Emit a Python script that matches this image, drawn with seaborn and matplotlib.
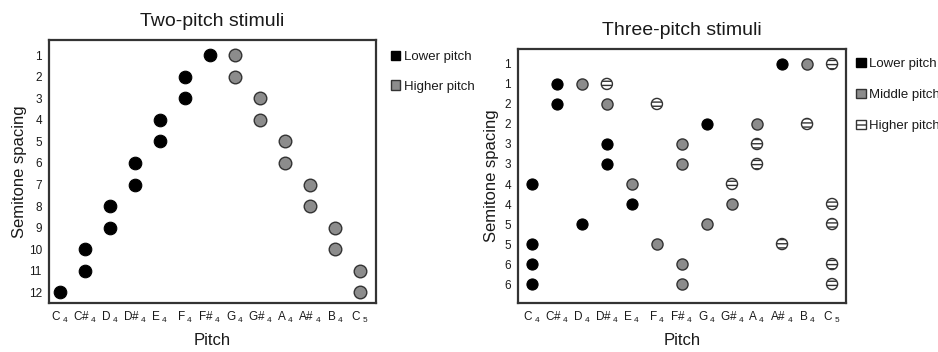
import matplotlib
matplotlib.use("Agg")
import matplotlib.pyplot as plt
from matplotlib.patches import Patch
import seaborn as sns
import pandas as pd

# Chromatic pitch axis (C4 .. C5)
pitches = ["C4", "C#4", "D4", "D#4", "E4", "F4", "F#4", "G4", "G#4", "A4", "A#4", "B4", "C5"]

# Two-pitch stimuli: one row per semitone spacing
two_spacing = [1, 2, 3, 4, 5, 6, 7, 8, 9, 10, 11, 12]
two_lower = ["F#4", "F4", "F4", "E4", "E4", "D#4", "D#4", "D4", "D4", "C#4", "C#4", "C4"]
two_higher = ["G4", "G4", "G#4", "G#4", "A4", "A4", "A#4", "A#4", "B4", "B4", "C5", "C5"]

# Three-pitch stimuli: one row per stimulus, labelled by its semitone spacing
three_spacing = [1, 1, 2, 2, 3, 3, 4, 4, 5, 5, 6, 6]
three_lower = ["A#4", "C#4", "C#4", "G4", "D#4", "D#4", "C4", "E4", "D4", "C4", "C4", "C4"]
three_middle = ["B4", "D4", "D#4", "A4", "F#4", "F#4", "E4", "G#4", "G4", "F4", "F#4", "F#4"]
three_higher = ["C5", "D#4", "F4", "B4", "A4", "A4", "G#4", "C5", "C5", "A#4", "C5", "C5"]

sns.set_style("white")
plt.rcParams["font.family"] = ["Liberation Sans", "DejaVu Sans"]
plt.rcParams["mathtext.fontset"] = "custom"
plt.rcParams["mathtext.rm"] = "Liberation Sans"
plt.rcParams["mathtext.default"] = "regular"
plt.rcParams["hatch.linewidth"] = 1.0
plt.rcParams["hatch.color"] = "#333333"

BLACK = "#000000"
GRAY = "#8c8c8c"
EDGE = "#333333"
TEXT = "#1a1a1a"

fig = plt.figure(figsize=(9.38, 3.52), dpi=100)
ax1 = fig.add_axes([0.052, 0.139, 0.349, 0.747])
ax2 = fig.add_axes([0.552, 0.139, 0.350, 0.722])


def tick_label(name):
    return name[:-1] + "$_{\\,\\," + name[-1] + "}$"


def series_frame(names):
    return pd.DataFrame({"pos": [pitches.index(n) for n in names],
                         "row": list(range(len(names)))})


def draw(ax, df, kind, size):
    if kind == "lower":
        sns.scatterplot(data=df, x="pos", y="row", ax=ax, s=size, color=BLACK,
                        edgecolor=BLACK, linewidth=0.8, legend=False, zorder=3)
    elif kind == "middle":
        sns.scatterplot(data=df, x="pos", y="row", ax=ax, s=size, color=GRAY,
                        edgecolor=EDGE, linewidth=1.0, legend=False, zorder=3)
    else:
        sns.scatterplot(data=df, x="pos", y="row", ax=ax, s=size, color="white",
                        edgecolor=EDGE, linewidth=1.0, hatch="----", legend=False, zorder=3)


def style_axes(ax, title, spacing, ylim, xlim, title_pad, ylabel_pad):
    ax.set_xlim(*xlim)
    ax.set_ylim(*ylim)
    ax.set_xticks(range(len(pitches)))
    ax.set_xticklabels([tick_label(p) for p in pitches], fontsize=8.5, color=TEXT)
    ax.set_yticks(range(len(spacing)))
    ax.set_yticklabels([str(v) for v in spacing], fontsize=8.5, color=TEXT)
    ax.tick_params(axis="x", length=0, pad=5)
    ax.tick_params(axis="y", length=0, pad=5)
    ax.set_xlabel("Pitch", fontsize=12, labelpad=6, color=TEXT)
    ax.set_ylabel("Semitone spacing", fontsize=12, labelpad=ylabel_pad, color=TEXT)
    ax.set_title(title, fontsize=14, color=TEXT, pad=title_pad)
    for sp in ax.spines.values():
        sp.set_visible(True)
        sp.set_color("#333333")
        sp.set_linewidth(1.6)


# Left panel
draw(ax1, series_frame(two_lower), "lower", 82)
draw(ax1, series_frame(two_higher), "middle", 82)
style_axes(ax1, "Two-pitch stimuli", two_spacing, (11.5, -0.7), (-0.44, 12.64), 10, 1)

# Right panel
draw(ax2, series_frame(three_lower), "lower", 64)
draw(ax2, series_frame(three_middle), "middle", 64)
draw(ax2, series_frame(three_higher), "higher", 64)
style_axes(ax2, "Three-pitch stimuli", three_spacing, (11.95, -0.75), (-0.56, 12.56), 10, 4)

# Legends
h_lower = Patch(facecolor=BLACK, edgecolor=BLACK, linewidth=1.0)
h_mid = Patch(facecolor=GRAY, edgecolor=EDGE, linewidth=1.0)
h_high = Patch(facecolor="white", edgecolor=EDGE, linewidth=1.0, hatch="---")

leg_kw = dict(frameon=False, fontsize=9.5, handlelength=0.7, handleheight=0.7,
              handletextpad=0.3, borderaxespad=0, loc="upper left")
ax1.legend([h_lower, h_mid], ["Lower pitch", "Higher pitch"],
           bbox_to_anchor=(1.03, 0.98), labelspacing=1.32, labelcolor=TEXT, **leg_kw)
ax2.legend([h_lower, h_mid, h_high], ["Lower pitch", "Middle pitch", "Higher pitch"],
           bbox_to_anchor=(1.015, 0.985), labelspacing=1.41, labelcolor=TEXT, **leg_kw)

fig.savefig("out.png", dpi=100)
